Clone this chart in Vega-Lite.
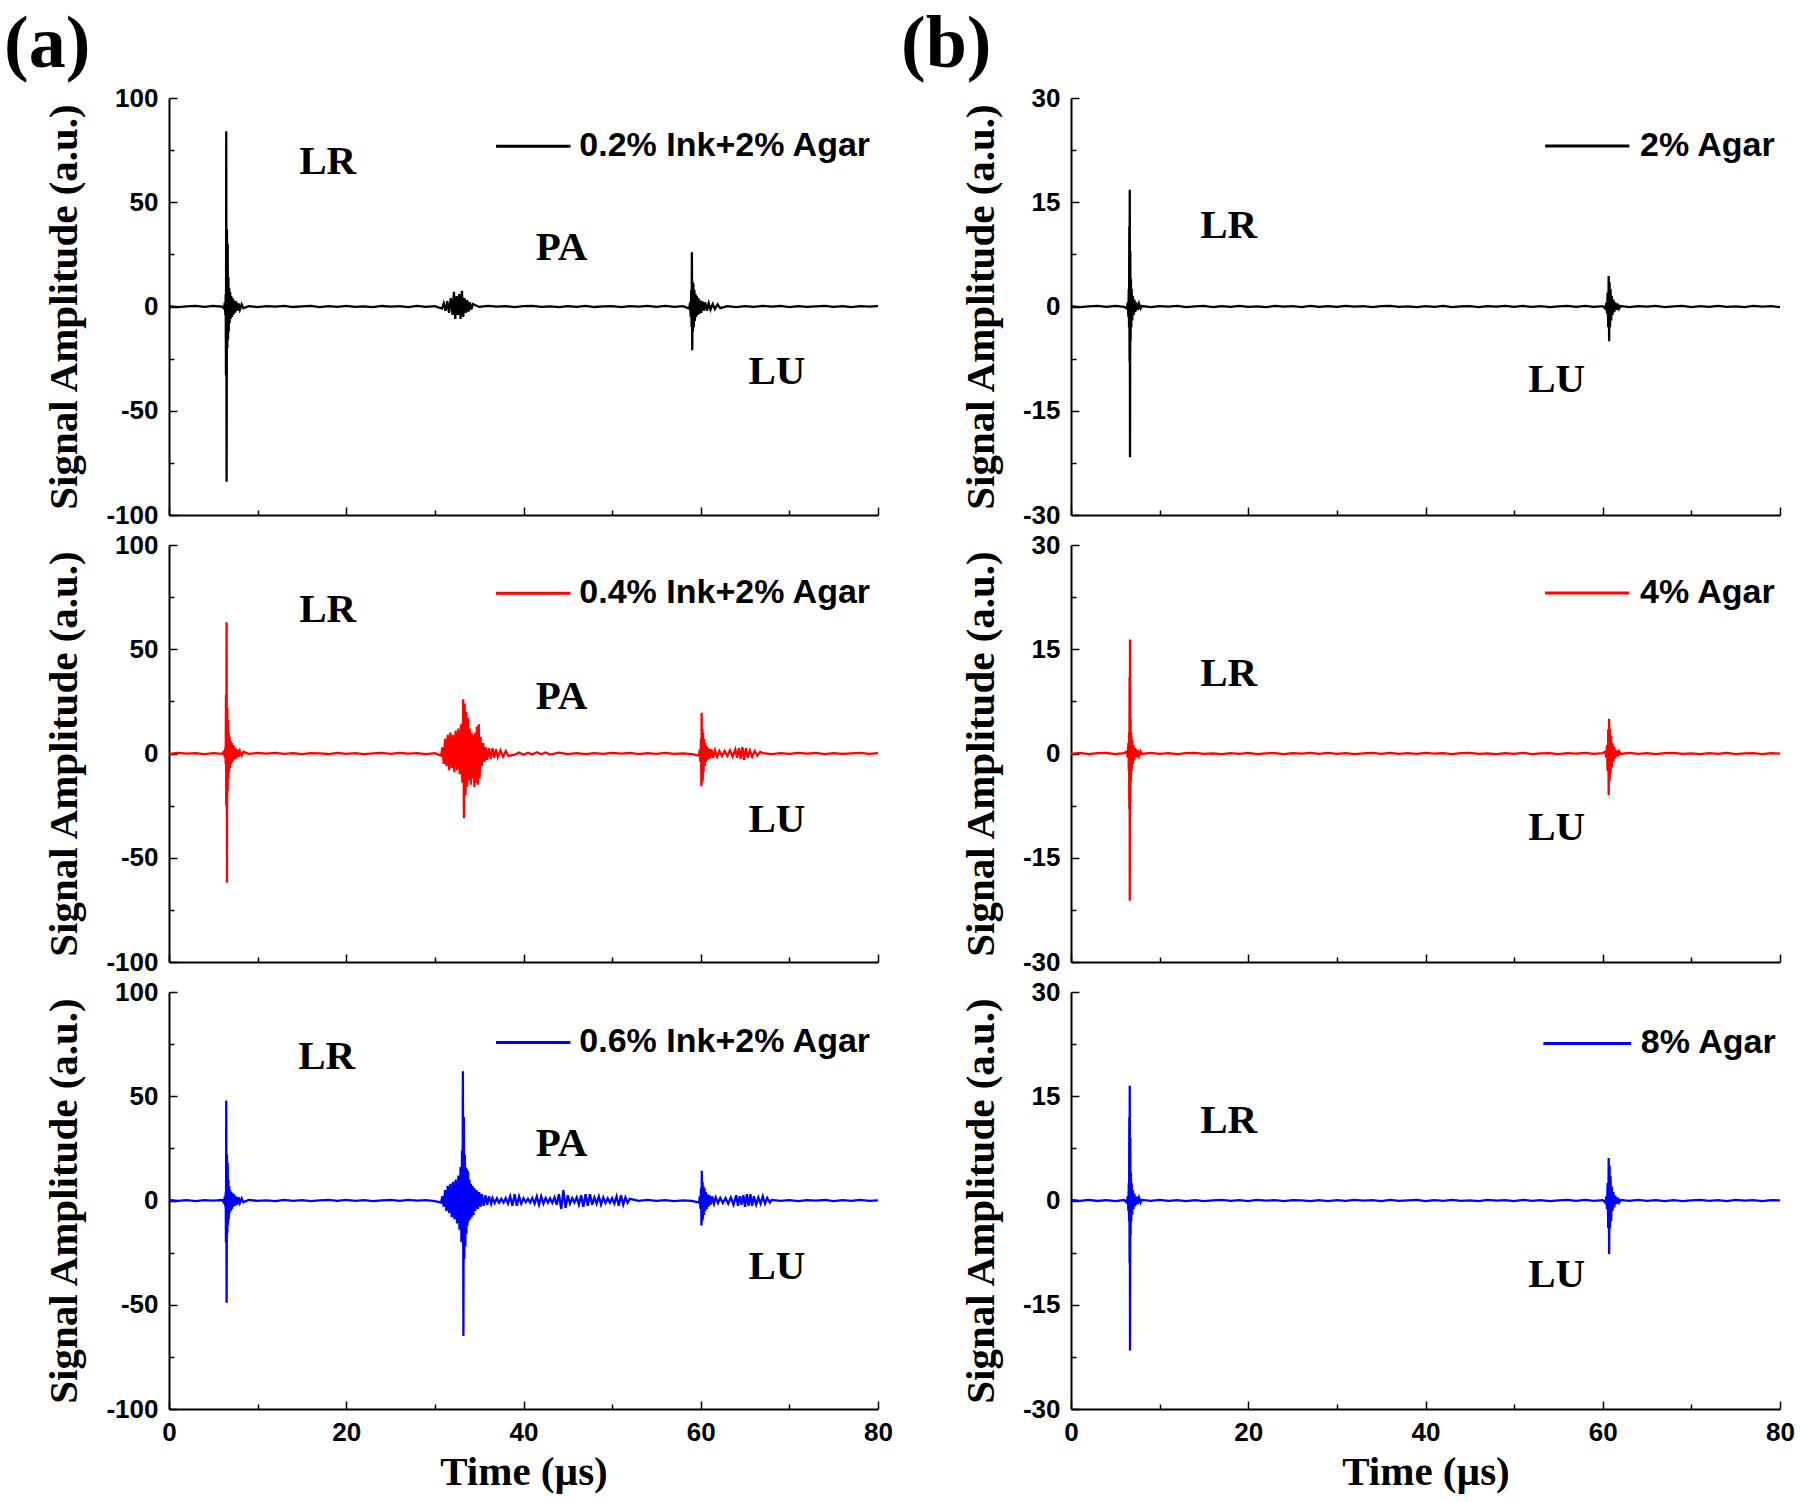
{
"$schema": "https://vega.github.io/schema/vega-lite/v6.json",
"background": "white",
"padding": {"left": 4, "top": 8, "right": 10, "bottom": 5},
"config": {
  "view": {"stroke": null},
  "axis": {"domainColor": "#000000", "domainWidth": 2, "tickColor": "#000000", "tickWidth": 1.5, "labelFont": "Liberation Sans", "labelFontWeight": "bold", "labelFontSize": 26, "labelColor": "#000000", "titleFont": "Liberation Serif", "titleFontWeight": "bold", "titleFontSize": 41, "titleColor": "#000000", "grid": false, "labelOverlap": false, "labelFlush": false, "labelBound": false}
},
"datasets": {
"a1": [
{"t":0,"v":0.2},{"t":1,"v":-0.3},{"t":2,"v":0.1},{"t":3,"v":0.3},{"t":4,"v":-0.2},{"t":5,"v":0.25},{"t":6,"v":-0.1},
{"t":6.2,"v":-1},{"t":6.3,"v":2},{"t":6.36,"v":-4},{"t":6.4,"v":6},{"t":6.43,"v":-33},{"t":6.46,"v":84},{"t":6.5,"v":-84},{"t":6.54,"v":37},{"t":6.58,"v":-20},{"t":6.62,"v":30},{"t":6.66,"v":-16},{"t":6.7,"v":14},{"t":6.74,"v":-12},{"t":6.79,"v":9},{"t":6.84,"v":-8},{"t":6.9,"v":7},{"t":6.96,"v":-6},{"t":7.03,"v":5},{"t":7.1,"v":-5},{"t":7.18,"v":4},{"t":7.27,"v":-4},{"t":7.36,"v":3},{"t":7.46,"v":-3},{"t":7.58,"v":2.5},{"t":7.7,"v":-2},{"t":7.85,"v":1.5},{"t":8,"v":-1.5},{"t":8.2,"v":1},{"t":8.4,"v":-0.8},
{"t":9,"v":0.2},{"t":10,"v":-0.3},{"t":11,"v":0.15},{"t":12,"v":-0.1},{"t":13,"v":0.3},{"t":14,"v":-0.25},{"t":15,"v":0.1},{"t":16,"v":0.25},{"t":17,"v":-0.3},{"t":18,"v":0.2},{"t":19,"v":-0.15},{"t":20,"v":0.3},{"t":21,"v":-0.2},{"t":22,"v":0.1},{"t":23,"v":-0.3},{"t":24,"v":0.25},{"t":25,"v":-0.1},{"t":26,"v":0.2},{"t":27,"v":-0.25},{"t":28,"v":0.3},{"t":29,"v":-0.15},{"t":30,"v":0.2},
{"t":30.8,"v":-1},{"t":31,"v":1.5},{"t":31.2,"v":-2},{"t":31.4,"v":2.5},{"t":31.6,"v":-3},{"t":31.8,"v":4},{"t":32,"v":-4},{"t":32.15,"v":7},{"t":32.3,"v":-6},{"t":32.45,"v":5},{"t":32.6,"v":-4},{"t":32.75,"v":6},{"t":32.9,"v":-6},{"t":33.05,"v":7.5},{"t":33.2,"v":-5},{"t":33.35,"v":4},{"t":33.5,"v":-3},{"t":33.65,"v":3},{"t":33.8,"v":-2.5},{"t":33.95,"v":2},{"t":34.1,"v":-1.5},{"t":34.3,"v":1.2},
{"t":35,"v":-0.2},{"t":36,"v":0.3},{"t":37,"v":-0.1},{"t":38,"v":0.2},{"t":39,"v":-0.3},{"t":40,"v":0.15},{"t":41,"v":0.25},{"t":42,"v":-0.2},{"t":43,"v":0.1},{"t":44,"v":-0.3},{"t":45,"v":0.2},{"t":46,"v":-0.15},{"t":47,"v":0.3},{"t":48,"v":-0.25},{"t":49,"v":0.1},{"t":50,"v":0.2},{"t":51,"v":-0.3},{"t":52,"v":0.15},{"t":53,"v":-0.1},{"t":54,"v":0.3},{"t":55,"v":-0.2},{"t":56,"v":0.25},{"t":57,"v":-0.15},{"t":58,"v":0.2},
{"t":58.7,"v":-1},{"t":58.8,"v":2},{"t":58.87,"v":-5},{"t":58.93,"v":8},{"t":58.97,"v":-10},{"t":59,"v":26},{"t":59.04,"v":-21},{"t":59.08,"v":12},{"t":59.12,"v":-12},{"t":59.17,"v":11},{"t":59.22,"v":-10},{"t":59.28,"v":8},{"t":59.34,"v":-7},{"t":59.41,"v":6},{"t":59.48,"v":-5},{"t":59.56,"v":5},{"t":59.64,"v":-4},{"t":59.73,"v":4},{"t":59.83,"v":-3.5},{"t":59.94,"v":3},{"t":60.06,"v":-3},{"t":60.2,"v":2.5},{"t":60.35,"v":-2},{"t":60.5,"v":2},{"t":60.7,"v":-2},{"t":60.9,"v":1.5},{"t":61.1,"v":-1.5},{"t":61.35,"v":1.2},{"t":61.6,"v":-1.2},{"t":61.9,"v":1},{"t":62.2,"v":-0.8},
{"t":63,"v":0.2},{"t":64,"v":-0.3},{"t":65,"v":0.15},{"t":66,"v":-0.2},{"t":67,"v":0.3},{"t":68,"v":-0.1},{"t":69,"v":0.25},{"t":70,"v":-0.3},{"t":71,"v":0.2},{"t":72,"v":-0.15},{"t":73,"v":0.1},{"t":74,"v":0.3},{"t":75,"v":-0.2},{"t":76,"v":0.15},{"t":77,"v":-0.3},{"t":78,"v":0.2},{"t":79,"v":-0.1},{"t":80,"v":0.2}
],
"a2": [
{"t":0,"v":-0.2},{"t":1,"v":0.3},{"t":2,"v":-0.1},{"t":3,"v":0.2},{"t":4,"v":-0.3},{"t":5,"v":0.15},{"t":6,"v":-0.2},
{"t":6.2,"v":1},{"t":6.3,"v":-2},{"t":6.36,"v":3},{"t":6.4,"v":-5},{"t":6.43,"v":28},{"t":6.46,"v":-25},{"t":6.5,"v":63},{"t":6.54,"v":-62},{"t":6.58,"v":22},{"t":6.62,"v":-18},{"t":6.66,"v":16},{"t":6.7,"v":-12},{"t":6.74,"v":10},{"t":6.79,"v":-9},{"t":6.84,"v":8},{"t":6.9,"v":-7},{"t":6.96,"v":6},{"t":7.03,"v":-5},{"t":7.1,"v":5},{"t":7.18,"v":-4},{"t":7.27,"v":4},{"t":7.36,"v":-3},{"t":7.46,"v":3},{"t":7.58,"v":-2.5},{"t":7.7,"v":2},{"t":7.85,"v":-1.5},{"t":8,"v":1.2},{"t":8.2,"v":-1},{"t":8.4,"v":0.8},
{"t":9,"v":-0.2},{"t":10,"v":0.25},{"t":11,"v":-0.1},{"t":12,"v":0.3},{"t":13,"v":-0.2},{"t":14,"v":0.15},{"t":15,"v":-0.3},{"t":16,"v":0.2},{"t":17,"v":0.1},{"t":18,"v":-0.25},{"t":19,"v":0.3},{"t":20,"v":-0.15},{"t":21,"v":0.2},{"t":22,"v":-0.3},{"t":23,"v":0.1},{"t":24,"v":0.25},{"t":25,"v":-0.2},{"t":26,"v":0.3},{"t":27,"v":-0.1},{"t":28,"v":0.2},{"t":29,"v":-0.25},{"t":30,"v":0.15},
{"t":30.7,"v":-1},{"t":30.85,"v":3},{"t":31,"v":-5},{"t":31.15,"v":7},{"t":31.3,"v":-6},{"t":31.45,"v":9},{"t":31.6,"v":-8},{"t":31.75,"v":10},{"t":31.9,"v":-7},{"t":32.05,"v":9},{"t":32.2,"v":-9},{"t":32.35,"v":11},{"t":32.5,"v":-8},{"t":32.65,"v":12},{"t":32.8,"v":-10},{"t":32.95,"v":14},{"t":33.1,"v":-14},{"t":33.2,"v":26},{"t":33.28,"v":-31},{"t":33.36,"v":24},{"t":33.45,"v":-20},{"t":33.55,"v":20},{"t":33.65,"v":-16},{"t":33.75,"v":17},{"t":33.85,"v":-13},{"t":33.95,"v":12},{"t":34.05,"v":-15},{"t":34.15,"v":10},{"t":34.25,"v":-12},{"t":34.35,"v":9},{"t":34.45,"v":-16},{"t":34.55,"v":10},{"t":34.65,"v":-14},{"t":34.75,"v":13},{"t":34.85,"v":-15},{"t":34.95,"v":14},{"t":35.05,"v":-12},{"t":35.15,"v":8},{"t":35.3,"v":-6},{"t":35.45,"v":5},{"t":35.6,"v":-4},{"t":35.75,"v":3},{"t":35.9,"v":-3},{"t":36.1,"v":2.5},{"t":36.3,"v":-2.5},{"t":36.5,"v":2.5},{"t":36.7,"v":-2},{"t":36.9,"v":2},{"t":37.1,"v":-1.8},{"t":37.4,"v":1.5},{"t":37.7,"v":-1.5},{"t":38,"v":1.2},{"t":38.3,"v":-1.2},
{"t":39,"v":-0.6},{"t":39.5,"v":0.5},{"t":40,"v":-0.6},{"t":40.5,"v":0.4},{"t":41,"v":-0.5},{"t":41.5,"v":0.6},{"t":42,"v":-0.4},{"t":42.5,"v":0.5},{"t":43,"v":-0.5},{"t":44,"v":0.4},{"t":45,"v":-0.3},{"t":46,"v":0.2},{"t":47,"v":-0.3},{"t":48,"v":0.15},{"t":49,"v":-0.2},{"t":50,"v":0.3},{"t":51,"v":-0.1},{"t":52,"v":0.25},{"t":53,"v":-0.3},{"t":54,"v":0.2},{"t":55,"v":-0.15},{"t":56,"v":0.3},{"t":57,"v":-0.2},{"t":58,"v":0.1},{"t":59,"v":-0.25},
{"t":59.8,"v":-1},{"t":59.9,"v":2},{"t":59.97,"v":-4},{"t":60.03,"v":7},{"t":60.07,"v":-15.7},{"t":60.1,"v":19.6},{"t":60.14,"v":-14},{"t":60.18,"v":12},{"t":60.22,"v":-13},{"t":60.27,"v":10},{"t":60.32,"v":-9},{"t":60.38,"v":7},{"t":60.45,"v":-6},{"t":60.52,"v":5},{"t":60.6,"v":-4},{"t":60.7,"v":3.5},{"t":60.8,"v":-3},{"t":60.92,"v":2.5},{"t":61.05,"v":-2.5},{"t":61.2,"v":2},{"t":61.4,"v":-2},{"t":61.6,"v":1.5},{"t":61.85,"v":-1.5},{"t":62.1,"v":1.2},{"t":62.4,"v":-1.2},{"t":62.7,"v":1.2},{"t":63,"v":-1.2},{"t":63.3,"v":1.5},{"t":63.6,"v":-1.5},{"t":63.9,"v":2},{"t":64.1,"v":-2},{"t":64.3,"v":2.5},{"t":64.5,"v":-2.5},{"t":64.7,"v":3},{"t":64.9,"v":-3},{"t":65.1,"v":2.5},{"t":65.3,"v":-2},{"t":65.55,"v":1.5},{"t":65.8,"v":-1.5},{"t":66.1,"v":1.2},{"t":66.4,"v":-1},{"t":66.7,"v":0.8},
{"t":67,"v":0.2},{"t":68,"v":-0.3},{"t":69,"v":0.15},{"t":70,"v":-0.2},{"t":71,"v":0.3},{"t":72,"v":-0.1},{"t":73,"v":0.25},{"t":74,"v":-0.3},{"t":75,"v":0.2},{"t":76,"v":-0.15},{"t":77,"v":0.1},{"t":78,"v":0.3},{"t":79,"v":-0.2},{"t":80,"v":0.15}
],
"a3": [
{"t":0,"v":0.3},{"t":1,"v":-0.2},{"t":2,"v":0.15},{"t":3,"v":-0.3},{"t":4,"v":0.2},{"t":5,"v":-0.1},{"t":6,"v":0.25},
{"t":6.2,"v":-1},{"t":6.3,"v":2},{"t":6.36,"v":-3},{"t":6.4,"v":4},{"t":6.43,"v":-20},{"t":6.46,"v":48},{"t":6.5,"v":-49},{"t":6.54,"v":22},{"t":6.58,"v":-16},{"t":6.62,"v":18},{"t":6.66,"v":-12},{"t":6.7,"v":10},{"t":6.74,"v":-9},{"t":6.79,"v":7},{"t":6.84,"v":-6},{"t":6.9,"v":5},{"t":6.96,"v":-5},{"t":7.03,"v":4},{"t":7.1,"v":-4},{"t":7.18,"v":3.5},{"t":7.27,"v":-3},{"t":7.36,"v":3},{"t":7.46,"v":-2.5},{"t":7.58,"v":2},{"t":7.7,"v":-2},{"t":7.85,"v":1.5},{"t":8,"v":-1.2},{"t":8.2,"v":1},{"t":8.4,"v":-0.8},
{"t":9,"v":0.3},{"t":10,"v":-0.2},{"t":11,"v":0.1},{"t":12,"v":-0.3},{"t":13,"v":0.25},{"t":14,"v":-0.15},{"t":15,"v":0.2},{"t":16,"v":-0.3},{"t":17,"v":0.1},{"t":18,"v":0.25},{"t":19,"v":-0.2},{"t":20,"v":0.3},{"t":21,"v":-0.15},{"t":22,"v":0.2},{"t":23,"v":-0.3},{"t":24,"v":0.1},{"t":25,"v":0.25},{"t":26,"v":-0.2},{"t":27,"v":0.3},{"t":28,"v":-0.1},{"t":29,"v":0.2},{"t":30,"v":-0.3},
{"t":30.7,"v":-1},{"t":30.85,"v":2},{"t":31,"v":-3},{"t":31.15,"v":5},{"t":31.3,"v":-5},{"t":31.45,"v":7},{"t":31.6,"v":-6},{"t":31.75,"v":8},{"t":31.9,"v":-8},{"t":32.05,"v":9},{"t":32.2,"v":-9},{"t":32.35,"v":10},{"t":32.5,"v":-11},{"t":32.65,"v":12},{"t":32.78,"v":-14},{"t":32.9,"v":16},{"t":33,"v":-20},{"t":33.06,"v":24},{"t":33.12,"v":-18},{"t":33.16,"v":62},{"t":33.22,"v":-65},{"t":33.27,"v":40},{"t":33.32,"v":-28},{"t":33.38,"v":22},{"t":33.44,"v":-22},{"t":33.5,"v":16},{"t":33.56,"v":-16},{"t":33.62,"v":15},{"t":33.68,"v":-12},{"t":33.75,"v":14},{"t":33.82,"v":-10},{"t":33.9,"v":10},{"t":33.98,"v":-9},{"t":34.06,"v":8},{"t":34.15,"v":-8},{"t":34.25,"v":7},{"t":34.35,"v":-7},{"t":34.45,"v":6},{"t":34.55,"v":-5},{"t":34.7,"v":5},{"t":34.85,"v":-4},{"t":35,"v":4},{"t":35.15,"v":-3},{"t":35.3,"v":3},{"t":35.5,"v":-2.5},{"t":35.7,"v":2.5},{"t":35.9,"v":-2},{"t":36.1,"v":2},{"t":36.35,"v":-1.5},
{"t":36.5,"v":1.2},{"t":36.75,"v":-1.2},{"t":37,"v":1},{"t":37.25,"v":-1},{"t":37.5,"v":0.8},{"t":37.75,"v":-1},{"t":38,"v":1.2},{"t":38.25,"v":-1.5},{"t":38.5,"v":2},{"t":38.75,"v":-2.5},{"t":39,"v":3},{"t":39.25,"v":-2.5},{"t":39.5,"v":2},{"t":39.75,"v":-1.5},{"t":40,"v":1},{"t":40.25,"v":-0.8},{"t":40.5,"v":0.8},{"t":40.75,"v":-1},{"t":41,"v":1.2},{"t":41.25,"v":-1.5},{"t":41.5,"v":2},{"t":41.75,"v":-2},{"t":42,"v":2},{"t":42.25,"v":-1.5},{"t":42.5,"v":1.2},{"t":42.75,"v":-1},{"t":43,"v":1},{"t":43.25,"v":-1.2},{"t":43.5,"v":1.5},{"t":43.75,"v":-2},{"t":44,"v":3},{"t":44.25,"v":-4},{"t":44.5,"v":5},{"t":44.75,"v":-3.5},{"t":45,"v":2.5},{"t":45.25,"v":-1.5},{"t":45.5,"v":1.2},{"t":45.75,"v":-1},{"t":46,"v":1.5},{"t":46.25,"v":-2},{"t":46.5,"v":2.5},{"t":46.75,"v":-3},{"t":47,"v":3},{"t":47.25,"v":-2.5},{"t":47.5,"v":3},{"t":47.75,"v":-2},{"t":48,"v":1.5},{"t":48.25,"v":-1.5},{"t":48.5,"v":2},{"t":48.75,"v":-2},{"t":49,"v":1.5},{"t":49.25,"v":-1.2},{"t":49.5,"v":1},{"t":49.75,"v":-1},{"t":50,"v":1.2},{"t":50.25,"v":-1.5},{"t":50.5,"v":2},{"t":50.75,"v":-2.5},{"t":51,"v":2.5},{"t":51.25,"v":-2},{"t":51.5,"v":1.5},{"t":51.75,"v":-1},{"t":52,"v":0.8},
{"t":53,"v":-0.2},{"t":54,"v":0.3},{"t":55,"v":-0.15},{"t":56,"v":0.2},{"t":57,"v":-0.3},{"t":58,"v":0.1},{"t":59,"v":-0.2},
{"t":59.8,"v":-1},{"t":59.9,"v":2},{"t":59.97,"v":-4},{"t":60.03,"v":6},{"t":60.08,"v":-12},{"t":60.12,"v":14.3},{"t":60.16,"v":-10},{"t":60.2,"v":9},{"t":60.25,"v":-9},{"t":60.3,"v":7},{"t":60.36,"v":-7},{"t":60.42,"v":6},{"t":60.5,"v":-5},{"t":60.58,"v":4},{"t":60.67,"v":-4},{"t":60.77,"v":3},{"t":60.88,"v":-3},{"t":61,"v":2.5},{"t":61.15,"v":-2},{"t":61.3,"v":2},{"t":61.5,"v":-1.5},{"t":61.7,"v":1.5},{"t":61.95,"v":-1.2},{"t":62.2,"v":1.2},{"t":62.5,"v":-1.2},{"t":62.8,"v":1.2},{"t":63.1,"v":-1.5},{"t":63.4,"v":1.5},{"t":63.7,"v":-2},{"t":64,"v":2.5},{"t":64.2,"v":-2.5},{"t":64.4,"v":2},{"t":64.6,"v":-2},{"t":64.8,"v":2.5},{"t":65,"v":-3},{"t":65.2,"v":3},{"t":65.4,"v":-2.5},{"t":65.6,"v":3},{"t":65.8,"v":-2.5},{"t":66,"v":2},{"t":66.25,"v":-2},{"t":66.5,"v":1.5},{"t":66.75,"v":-1.5},{"t":67,"v":2},{"t":67.25,"v":-1.5},{"t":67.5,"v":1.2},{"t":67.8,"v":-1},
{"t":68,"v":0.3},{"t":69,"v":-0.2},{"t":70,"v":0.15},{"t":71,"v":-0.3},{"t":72,"v":0.2},{"t":73,"v":-0.1},{"t":74,"v":0.25},{"t":75,"v":-0.3},{"t":76,"v":0.2},{"t":77,"v":-0.15},{"t":78,"v":0.3},{"t":79,"v":-0.2},{"t":80,"v":0.1}
],
"b1": [
{"t":0,"v":0.06},{"t":1,"v":-0.09},{"t":2,"v":0.03},{"t":3,"v":0.1},{"t":4,"v":-0.06},{"t":5,"v":0.08},{"t":6,"v":-0.04},
{"t":6.3,"v":-0.3},{"t":6.4,"v":0.6},{"t":6.48,"v":-1.5},{"t":6.52,"v":2.5},{"t":6.55,"v":-3},{"t":6.58,"v":11.5},{"t":6.61,"v":-8},{"t":6.63,"v":16.8},{"t":6.66,"v":-21.7},{"t":6.69,"v":8},{"t":6.72,"v":-5},{"t":6.76,"v":4},{"t":6.8,"v":-3},{"t":6.85,"v":2.5},{"t":6.91,"v":-2},{"t":6.98,"v":1.5},{"t":7.06,"v":-1.2},{"t":7.15,"v":1},{"t":7.25,"v":-0.8},{"t":7.38,"v":0.6},{"t":7.52,"v":-0.5},{"t":7.68,"v":0.4},{"t":7.85,"v":-0.3},
{"t":8,"v":0.06},{"t":9,"v":-0.1},{"t":10,"v":0.05},{"t":11,"v":-0.03},{"t":12,"v":0.1},{"t":13,"v":-0.08},{"t":14,"v":0.03},{"t":15,"v":0.08},{"t":16,"v":-0.1},{"t":17,"v":0.06},{"t":18,"v":-0.05},{"t":19,"v":0.1},{"t":20,"v":-0.06},{"t":21,"v":0.03},{"t":22,"v":-0.1},{"t":23,"v":0.08},{"t":24,"v":-0.03},{"t":25,"v":0.06},{"t":26,"v":-0.08},{"t":27,"v":0.1},{"t":28,"v":-0.05},{"t":29,"v":0.06},{"t":30,"v":-0.06},{"t":31,"v":0.1},{"t":32,"v":-0.03},{"t":33,"v":0.06},{"t":34,"v":-0.1},{"t":35,"v":0.05},{"t":36,"v":0.08},{"t":37,"v":-0.06},{"t":38,"v":0.03},{"t":39,"v":-0.1},{"t":40,"v":0.06},{"t":41,"v":-0.05},{"t":42,"v":0.1},{"t":43,"v":-0.08},{"t":44,"v":0.03},{"t":45,"v":0.06},{"t":46,"v":-0.1},{"t":47,"v":0.05},{"t":48,"v":-0.03},{"t":49,"v":0.1},{"t":50,"v":-0.06},{"t":51,"v":0.08},{"t":52,"v":-0.05},{"t":53,"v":0.06},{"t":54,"v":-0.1},{"t":55,"v":0.03},{"t":56,"v":0.08},{"t":57,"v":-0.06},{"t":58,"v":0.1},{"t":59,"v":-0.05},{"t":60,"v":0.06},
{"t":60.3,"v":-0.3},{"t":60.4,"v":0.5},{"t":60.48,"v":-1},{"t":60.55,"v":2},{"t":60.62,"v":-3},{"t":60.67,"v":4.4},{"t":60.72,"v":-5},{"t":60.77,"v":3.5},{"t":60.82,"v":-3},{"t":60.88,"v":2.5},{"t":60.95,"v":-2},{"t":61.02,"v":1.5},{"t":61.1,"v":-1.2},{"t":61.2,"v":1},{"t":61.3,"v":-0.8},{"t":61.42,"v":0.6},{"t":61.55,"v":-0.5},{"t":61.7,"v":0.4},{"t":61.85,"v":-0.3},
{"t":62,"v":0.06},{"t":63,"v":-0.1},{"t":64,"v":0.05},{"t":65,"v":-0.03},{"t":66,"v":0.1},{"t":67,"v":-0.08},{"t":68,"v":0.03},{"t":69,"v":0.08},{"t":70,"v":-0.1},{"t":71,"v":0.06},{"t":72,"v":-0.05},{"t":73,"v":0.1},{"t":74,"v":-0.06},{"t":75,"v":0.03},{"t":76,"v":-0.1},{"t":77,"v":0.08},{"t":78,"v":-0.03},{"t":79,"v":0.06},{"t":80,"v":-0.08}
],
"b2": [
{"t":0,"v":-0.05},{"t":1,"v":0.08},{"t":2,"v":-0.1},{"t":3,"v":0.04},{"t":4,"v":0.07},{"t":5,"v":-0.08},{"t":6,"v":0.05},
{"t":6.3,"v":0.3},{"t":6.4,"v":-0.6},{"t":6.48,"v":1.5},{"t":6.52,"v":-2.5},{"t":6.55,"v":3},{"t":6.58,"v":-8},{"t":6.61,"v":11},{"t":6.63,"v":-21.2},{"t":6.66,"v":16.4},{"t":6.69,"v":-7},{"t":6.72,"v":5},{"t":6.76,"v":-4},{"t":6.8,"v":3},{"t":6.85,"v":-2.5},{"t":6.91,"v":2},{"t":6.98,"v":-1.5},{"t":7.06,"v":1.2},{"t":7.15,"v":-1},{"t":7.25,"v":0.8},{"t":7.38,"v":-0.6},{"t":7.52,"v":0.5},{"t":7.68,"v":-0.4},{"t":7.85,"v":0.3},
{"t":8,"v":-0.06},{"t":9,"v":0.1},{"t":10,"v":-0.04},{"t":11,"v":0.06},{"t":12,"v":-0.1},{"t":13,"v":0.05},{"t":14,"v":0.08},{"t":15,"v":-0.06},{"t":16,"v":0.03},{"t":17,"v":-0.1},{"t":18,"v":0.06},{"t":19,"v":-0.05},{"t":20,"v":0.1},{"t":21,"v":-0.08},{"t":22,"v":0.03},{"t":23,"v":0.06},{"t":24,"v":-0.1},{"t":25,"v":0.05},{"t":26,"v":-0.03},{"t":27,"v":0.1},{"t":28,"v":-0.06},{"t":29,"v":0.08},{"t":30,"v":-0.05},{"t":31,"v":0.06},{"t":32,"v":-0.1},{"t":33,"v":0.03},{"t":34,"v":0.08},{"t":35,"v":-0.06},{"t":36,"v":0.1},{"t":37,"v":-0.05},{"t":38,"v":0.06},{"t":39,"v":-0.06},{"t":40,"v":0.1},{"t":41,"v":-0.03},{"t":42,"v":0.06},{"t":43,"v":-0.1},{"t":44,"v":0.05},{"t":45,"v":0.08},{"t":46,"v":-0.06},{"t":47,"v":0.03},{"t":48,"v":-0.1},{"t":49,"v":0.06},{"t":50,"v":-0.05},{"t":51,"v":0.1},{"t":52,"v":-0.08},{"t":53,"v":0.03},{"t":54,"v":0.06},{"t":55,"v":-0.1},{"t":56,"v":0.05},{"t":57,"v":-0.03},{"t":58,"v":0.1},{"t":59,"v":-0.06},{"t":60,"v":0.05},
{"t":60.3,"v":0.3},{"t":60.4,"v":-0.6},{"t":60.48,"v":1.2},{"t":60.55,"v":-2.5},{"t":60.62,"v":3.5},{"t":60.67,"v":-6},{"t":60.72,"v":5},{"t":60.77,"v":-4},{"t":60.82,"v":3.5},{"t":60.88,"v":-3},{"t":60.95,"v":2.5},{"t":61.02,"v":-2},{"t":61.1,"v":1.5},{"t":61.2,"v":-1.2},{"t":61.3,"v":1},{"t":61.42,"v":-0.7},{"t":61.55,"v":0.5},{"t":61.7,"v":-0.4},{"t":61.85,"v":0.3},
{"t":62,"v":-0.06},{"t":63,"v":0.1},{"t":64,"v":-0.04},{"t":65,"v":0.06},{"t":66,"v":-0.1},{"t":67,"v":0.05},{"t":68,"v":0.08},{"t":69,"v":-0.06},{"t":70,"v":0.03},{"t":71,"v":-0.1},{"t":72,"v":0.06},{"t":73,"v":-0.05},{"t":74,"v":0.1},{"t":75,"v":-0.08},{"t":76,"v":0.03},{"t":77,"v":0.06},{"t":78,"v":-0.1},{"t":79,"v":0.05},{"t":80,"v":-0.03}
],
"b3": [
{"t":0,"v":0.08},{"t":1,"v":-0.05},{"t":2,"v":0.1},{"t":3,"v":-0.07},{"t":4,"v":0.04},{"t":5,"v":-0.1},{"t":6,"v":0.06},
{"t":6.3,"v":-0.3},{"t":6.4,"v":0.6},{"t":6.48,"v":-1.5},{"t":6.52,"v":2.5},{"t":6.55,"v":-3},{"t":6.58,"v":12},{"t":6.61,"v":-9},{"t":6.63,"v":16.5},{"t":6.66,"v":-21.6},{"t":6.69,"v":9},{"t":6.72,"v":-5},{"t":6.76,"v":4},{"t":6.8,"v":-3},{"t":6.85,"v":2.5},{"t":6.91,"v":-2},{"t":6.98,"v":1.5},{"t":7.06,"v":-1.2},{"t":7.15,"v":1},{"t":7.25,"v":-0.8},{"t":7.38,"v":0.6},{"t":7.52,"v":-0.5},{"t":7.68,"v":0.4},{"t":7.85,"v":-0.3},
{"t":8,"v":0.08},{"t":9,"v":-0.06},{"t":10,"v":0.1},{"t":11,"v":-0.04},{"t":12,"v":0.06},{"t":13,"v":-0.1},{"t":14,"v":0.05},{"t":15,"v":-0.08},{"t":16,"v":0.03},{"t":17,"v":0.1},{"t":18,"v":-0.06},{"t":19,"v":0.05},{"t":20,"v":-0.1},{"t":21,"v":0.08},{"t":22,"v":-0.03},{"t":23,"v":0.06},{"t":24,"v":-0.1},{"t":25,"v":0.05},{"t":26,"v":0.03},{"t":27,"v":-0.1},{"t":28,"v":0.06},{"t":29,"v":-0.08},{"t":30,"v":0.05},{"t":31,"v":-0.06},{"t":32,"v":0.1},{"t":33,"v":-0.03},{"t":34,"v":0.06},{"t":35,"v":-0.08},{"t":36,"v":0.1},{"t":37,"v":-0.05},{"t":38,"v":0.03},{"t":39,"v":0.08},{"t":40,"v":-0.1},{"t":41,"v":0.06},{"t":42,"v":-0.05},{"t":43,"v":0.1},{"t":44,"v":-0.06},{"t":45,"v":0.03},{"t":46,"v":-0.1},{"t":47,"v":0.08},{"t":48,"v":-0.03},{"t":49,"v":0.06},{"t":50,"v":-0.08},{"t":51,"v":0.1},{"t":52,"v":-0.05},{"t":53,"v":0.06},{"t":54,"v":-0.1},{"t":55,"v":0.03},{"t":56,"v":0.08},{"t":57,"v":-0.06},{"t":58,"v":0.1},{"t":59,"v":-0.05},{"t":60,"v":0.06},
{"t":60.3,"v":-0.3},{"t":60.4,"v":0.6},{"t":60.48,"v":-1.2},{"t":60.55,"v":2.5},{"t":60.62,"v":-4},{"t":60.67,"v":6.1},{"t":60.72,"v":-7.7},{"t":60.77,"v":5},{"t":60.82,"v":-4},{"t":60.88,"v":3.5},{"t":60.95,"v":-3},{"t":61.02,"v":2},{"t":61.1,"v":-1.5},{"t":61.2,"v":1.2},{"t":61.3,"v":-1},{"t":61.42,"v":0.7},{"t":61.55,"v":-0.5},{"t":61.7,"v":0.4},{"t":61.85,"v":-0.3},
{"t":62,"v":0.08},{"t":63,"v":-0.06},{"t":64,"v":0.1},{"t":65,"v":-0.04},{"t":66,"v":0.06},{"t":67,"v":-0.1},{"t":68,"v":0.05},{"t":69,"v":-0.08},{"t":70,"v":0.03},{"t":71,"v":0.1},{"t":72,"v":-0.06},{"t":73,"v":0.05},{"t":74,"v":-0.1},{"t":75,"v":0.08},{"t":76,"v":-0.03},{"t":77,"v":0.06},{"t":78,"v":-0.1},{"t":79,"v":0.05},{"t":80,"v":0.03}
]
},
"columns": 2,
"spacing": {"row": 30, "column": 193},
"bounds": "flush",
"concat": [
{
 "width": 709, "height": 417,
 "title": {"text": "(a)", "anchor": "start", "frame": "group", "dx": -165, "offset": 2, "font": "Liberation Serif", "fontWeight": "bold", "fontSize": 74, "color": "#000000"},
 "layer": [
  {"data": {"name": "a1"}, "mark": {"type": "line", "color": "#000000", "strokeWidth": 2.3, "clip": true},
   "encoding": {
    "x": {"field": "t", "type": "quantitative", "scale": {"domain": [0, 80], "nice": false, "zero": false}, "axis": {"values": [0,10,20,30,40,50,60,70,80], "labels": false, "title": null, "tickSize": {"condition": {"test": "datum.value % 20 === 0", "value": -8}, "value": -5}}},
    "y": {"field": "v", "type": "quantitative", "scale": {"domain": [-100, 100], "nice": false, "zero": false}, "axis": {"values": [-100,-75,-50,-25,0,25,50,75,100], "labelExpr": "datum.value % 50 === 0 ? toString(datum.value) : ''", "tickSize": {"condition": {"test": "datum.value % 50 === 0", "value": -8}, "value": -5}, "labelPadding": 19, "title": "Signal Amplitude (a.u.)", "titlePadding": 20}}
   }},
  {"data": {"values": [{"t": 17.9, "v": 69.5, "label": "LR"}, {"t": 44.3, "v": 28, "label": "PA"}, {"t": 68.6, "v": -31.5, "label": "LU"}]},
   "mark": {"type": "text", "font": "Liberation Serif", "fontWeight": "bold", "fontSize": 41, "color": "#000000", "align": "center", "baseline": "middle"},
   "encoding": {"x": {"field": "t", "type": "quantitative"}, "y": {"field": "v", "type": "quantitative"}, "text": {"field": "label"}}},
  {"data": {"values": [{"t": 36.9, "t2": 45.3, "v": 76.9}]},
   "mark": {"type": "rule", "color": "#000000", "strokeWidth": 3},
   "encoding": {"x": {"field": "t", "type": "quantitative"}, "x2": {"field": "t2"}, "y": {"field": "v", "type": "quantitative"}}},
  {"data": {"values": [{"t": 46.3, "v": 76.9, "label": "0.2% Ink+2% Agar"}]},
   "mark": {"type": "text", "font": "Liberation Sans", "fontWeight": "bold", "fontSize": 34, "color": "#000000", "align": "left", "baseline": "middle"},
   "encoding": {"x": {"field": "t", "type": "quantitative"}, "y": {"field": "v", "type": "quantitative"}, "text": {"field": "label"}}}
 ]
},
{
 "width": 709, "height": 417,
 "title": {"text": "(b)", "anchor": "start", "frame": "group", "dx": -170, "offset": 2, "font": "Liberation Serif", "fontWeight": "bold", "fontSize": 74, "color": "#000000"},
 "layer": [
  {"data": {"name": "b1"}, "mark": {"type": "line", "color": "#000000", "strokeWidth": 2.3, "clip": true},
   "encoding": {
    "x": {"field": "t", "type": "quantitative", "scale": {"domain": [0, 80], "nice": false, "zero": false}, "axis": {"values": [0,10,20,30,40,50,60,70,80], "labels": false, "title": null, "tickSize": {"condition": {"test": "datum.value % 20 === 0", "value": -8}, "value": -5}}},
    "y": {"field": "v", "type": "quantitative", "scale": {"domain": [-30, 30], "nice": false, "zero": false}, "axis": {"values": [-30,-22.5,-15,-7.5,0,7.5,15,22.5,30], "labelExpr": "datum.value % 15 === 0 ? toString(datum.value) : ''", "tickSize": {"condition": {"test": "datum.value % 15 === 0", "value": -8}, "value": -5}, "labelPadding": 19, "title": "Signal Amplitude (a.u.)", "titlePadding": 20}}
   }},
  {"data": {"values": [{"t": 17.8, "v": 11.6, "label": "LR"}, {"t": 54.8, "v": -10.6, "label": "LU"}]},
   "mark": {"type": "text", "font": "Liberation Serif", "fontWeight": "bold", "fontSize": 41, "color": "#000000", "align": "center", "baseline": "middle"},
   "encoding": {"x": {"field": "t", "type": "quantitative"}, "y": {"field": "v", "type": "quantitative"}, "text": {"field": "label"}}},
  {"data": {"values": [{"t": 53.5, "t2": 63, "v": 23.1}]},
   "mark": {"type": "rule", "color": "#000000", "strokeWidth": 3},
   "encoding": {"x": {"field": "t", "type": "quantitative"}, "x2": {"field": "t2"}, "y": {"field": "v", "type": "quantitative"}}},
  {"data": {"values": [{"t": 64.2, "v": 23.1, "label": "2% Agar"}]},
   "mark": {"type": "text", "font": "Liberation Sans", "fontWeight": "bold", "fontSize": 34, "color": "#000000", "align": "left", "baseline": "middle"},
   "encoding": {"x": {"field": "t", "type": "quantitative"}, "y": {"field": "v", "type": "quantitative"}, "text": {"field": "label"}}}
 ]
},
{
 "width": 709, "height": 417,
 "layer": [
  {"data": {"name": "a2"}, "mark": {"type": "line", "color": "#ff0000", "strokeWidth": 2.3, "clip": true},
   "encoding": {
    "x": {"field": "t", "type": "quantitative", "scale": {"domain": [0, 80], "nice": false, "zero": false}, "axis": {"values": [0,10,20,30,40,50,60,70,80], "labels": false, "title": null, "tickSize": {"condition": {"test": "datum.value % 20 === 0", "value": -8}, "value": -5}}},
    "y": {"field": "v", "type": "quantitative", "scale": {"domain": [-100, 100], "nice": false, "zero": false}, "axis": {"values": [-100,-75,-50,-25,0,25,50,75,100], "labelExpr": "datum.value % 50 === 0 ? toString(datum.value) : ''", "tickSize": {"condition": {"test": "datum.value % 50 === 0", "value": -8}, "value": -5}, "labelPadding": 19, "title": "Signal Amplitude (a.u.)", "titlePadding": 20}}
   }},
  {"data": {"values": [{"t": 17.9, "v": 68.6, "label": "LR"}, {"t": 44.3, "v": 27.3, "label": "PA"}, {"t": 68.6, "v": -32, "label": "LU"}]},
   "mark": {"type": "text", "font": "Liberation Serif", "fontWeight": "bold", "fontSize": 41, "color": "#000000", "align": "center", "baseline": "middle"},
   "encoding": {"x": {"field": "t", "type": "quantitative"}, "y": {"field": "v", "type": "quantitative"}, "text": {"field": "label"}}},
  {"data": {"values": [{"t": 36.9, "t2": 45.3, "v": 76.9}]},
   "mark": {"type": "rule", "color": "#ff0000", "strokeWidth": 3},
   "encoding": {"x": {"field": "t", "type": "quantitative"}, "x2": {"field": "t2"}, "y": {"field": "v", "type": "quantitative"}}},
  {"data": {"values": [{"t": 46.3, "v": 76.9, "label": "0.4% Ink+2% Agar"}]},
   "mark": {"type": "text", "font": "Liberation Sans", "fontWeight": "bold", "fontSize": 34, "color": "#000000", "align": "left", "baseline": "middle"},
   "encoding": {"x": {"field": "t", "type": "quantitative"}, "y": {"field": "v", "type": "quantitative"}, "text": {"field": "label"}}}
 ]
},
{
 "width": 709, "height": 417,
 "layer": [
  {"data": {"name": "b2"}, "mark": {"type": "line", "color": "#ff0000", "strokeWidth": 2.3, "clip": true},
   "encoding": {
    "x": {"field": "t", "type": "quantitative", "scale": {"domain": [0, 80], "nice": false, "zero": false}, "axis": {"values": [0,10,20,30,40,50,60,70,80], "labels": false, "title": null, "tickSize": {"condition": {"test": "datum.value % 20 === 0", "value": -8}, "value": -5}}},
    "y": {"field": "v", "type": "quantitative", "scale": {"domain": [-30, 30], "nice": false, "zero": false}, "axis": {"values": [-30,-22.5,-15,-7.5,0,7.5,15,22.5,30], "labelExpr": "datum.value % 15 === 0 ? toString(datum.value) : ''", "tickSize": {"condition": {"test": "datum.value % 15 === 0", "value": -8}, "value": -5}, "labelPadding": 19, "title": "Signal Amplitude (a.u.)", "titlePadding": 20}}
   }},
  {"data": {"values": [{"t": 17.8, "v": 11.5, "label": "LR"}, {"t": 54.8, "v": -10.7, "label": "LU"}]},
   "mark": {"type": "text", "font": "Liberation Serif", "fontWeight": "bold", "fontSize": 41, "color": "#000000", "align": "center", "baseline": "middle"},
   "encoding": {"x": {"field": "t", "type": "quantitative"}, "y": {"field": "v", "type": "quantitative"}, "text": {"field": "label"}}},
  {"data": {"values": [{"t": 53.5, "t2": 63, "v": 23.1}]},
   "mark": {"type": "rule", "color": "#ff0000", "strokeWidth": 3},
   "encoding": {"x": {"field": "t", "type": "quantitative"}, "x2": {"field": "t2"}, "y": {"field": "v", "type": "quantitative"}}},
  {"data": {"values": [{"t": 64.2, "v": 23.1, "label": "4% Agar"}]},
   "mark": {"type": "text", "font": "Liberation Sans", "fontWeight": "bold", "fontSize": 34, "color": "#000000", "align": "left", "baseline": "middle"},
   "encoding": {"x": {"field": "t", "type": "quantitative"}, "y": {"field": "v", "type": "quantitative"}, "text": {"field": "label"}}}
 ]
},
{
 "width": 709, "height": 417,
 "layer": [
  {"data": {"name": "a3"}, "mark": {"type": "line", "color": "#0000ff", "strokeWidth": 2.3, "clip": true},
   "encoding": {
    "x": {"field": "t", "type": "quantitative", "scale": {"domain": [0, 80], "nice": false, "zero": false}, "axis": {"values": [0,10,20,30,40,50,60,70,80], "labelExpr": "datum.value % 20 === 0 ? toString(datum.value) : ''", "tickSize": {"condition": {"test": "datum.value % 20 === 0", "value": -8}, "value": -5}, "labelPadding": 18, "title": "Time (µs)", "titlePadding": 4}},
    "y": {"field": "v", "type": "quantitative", "scale": {"domain": [-100, 100], "nice": false, "zero": false}, "axis": {"values": [-100,-75,-50,-25,0,25,50,75,100], "labelExpr": "datum.value % 50 === 0 ? toString(datum.value) : ''", "tickSize": {"condition": {"test": "datum.value % 50 === 0", "value": -8}, "value": -5}, "labelPadding": 19, "title": "Signal Amplitude (a.u.)", "titlePadding": 20}}
   }},
  {"data": {"values": [{"t": 17.8, "v": 68.7, "label": "LR"}, {"t": 44.3, "v": 27, "label": "PA"}, {"t": 68.6, "v": -32, "label": "LU"}]},
   "mark": {"type": "text", "font": "Liberation Serif", "fontWeight": "bold", "fontSize": 41, "color": "#000000", "align": "center", "baseline": "middle"},
   "encoding": {"x": {"field": "t", "type": "quantitative"}, "y": {"field": "v", "type": "quantitative"}, "text": {"field": "label"}}},
  {"data": {"values": [{"t": 36.9, "t2": 45.3, "v": 75.8}]},
   "mark": {"type": "rule", "color": "#0000ff", "strokeWidth": 3},
   "encoding": {"x": {"field": "t", "type": "quantitative"}, "x2": {"field": "t2"}, "y": {"field": "v", "type": "quantitative"}}},
  {"data": {"values": [{"t": 46.3, "v": 75.8, "label": "0.6% Ink+2% Agar"}]},
   "mark": {"type": "text", "font": "Liberation Sans", "fontWeight": "bold", "fontSize": 34, "color": "#000000", "align": "left", "baseline": "middle"},
   "encoding": {"x": {"field": "t", "type": "quantitative"}, "y": {"field": "v", "type": "quantitative"}, "text": {"field": "label"}}}
 ]
},
{
 "width": 709, "height": 417,
 "layer": [
  {"data": {"name": "b3"}, "mark": {"type": "line", "color": "#0000ff", "strokeWidth": 2.3, "clip": true},
   "encoding": {
    "x": {"field": "t", "type": "quantitative", "scale": {"domain": [0, 80], "nice": false, "zero": false}, "axis": {"values": [0,10,20,30,40,50,60,70,80], "labelExpr": "datum.value % 20 === 0 ? toString(datum.value) : ''", "tickSize": {"condition": {"test": "datum.value % 20 === 0", "value": -8}, "value": -5}, "labelPadding": 18, "title": "Time (µs)", "titlePadding": 4}},
    "y": {"field": "v", "type": "quantitative", "scale": {"domain": [-30, 30], "nice": false, "zero": false}, "axis": {"values": [-30,-22.5,-15,-7.5,0,7.5,15,22.5,30], "labelExpr": "datum.value % 15 === 0 ? toString(datum.value) : ''", "tickSize": {"condition": {"test": "datum.value % 15 === 0", "value": -8}, "value": -5}, "labelPadding": 19, "title": "Signal Amplitude (a.u.)", "titlePadding": 20}}
   }},
  {"data": {"values": [{"t": 17.8, "v": 11.4, "label": "LR"}, {"t": 54.8, "v": -10.7, "label": "LU"}]},
   "mark": {"type": "text", "font": "Liberation Serif", "fontWeight": "bold", "fontSize": 41, "color": "#000000", "align": "center", "baseline": "middle"},
   "encoding": {"x": {"field": "t", "type": "quantitative"}, "y": {"field": "v", "type": "quantitative"}, "text": {"field": "label"}}},
  {"data": {"values": [{"t": 53.3, "t2": 63.2, "v": 22.6}]},
   "mark": {"type": "rule", "color": "#0000ff", "strokeWidth": 3},
   "encoding": {"x": {"field": "t", "type": "quantitative"}, "x2": {"field": "t2"}, "y": {"field": "v", "type": "quantitative"}}},
  {"data": {"values": [{"t": 64.3, "v": 22.6, "label": "8% Agar"}]},
   "mark": {"type": "text", "font": "Liberation Sans", "fontWeight": "bold", "fontSize": 34, "color": "#000000", "align": "left", "baseline": "middle"},
   "encoding": {"x": {"field": "t", "type": "quantitative"}, "y": {"field": "v", "type": "quantitative"}, "text": {"field": "label"}}}
 ]
}
]
}
